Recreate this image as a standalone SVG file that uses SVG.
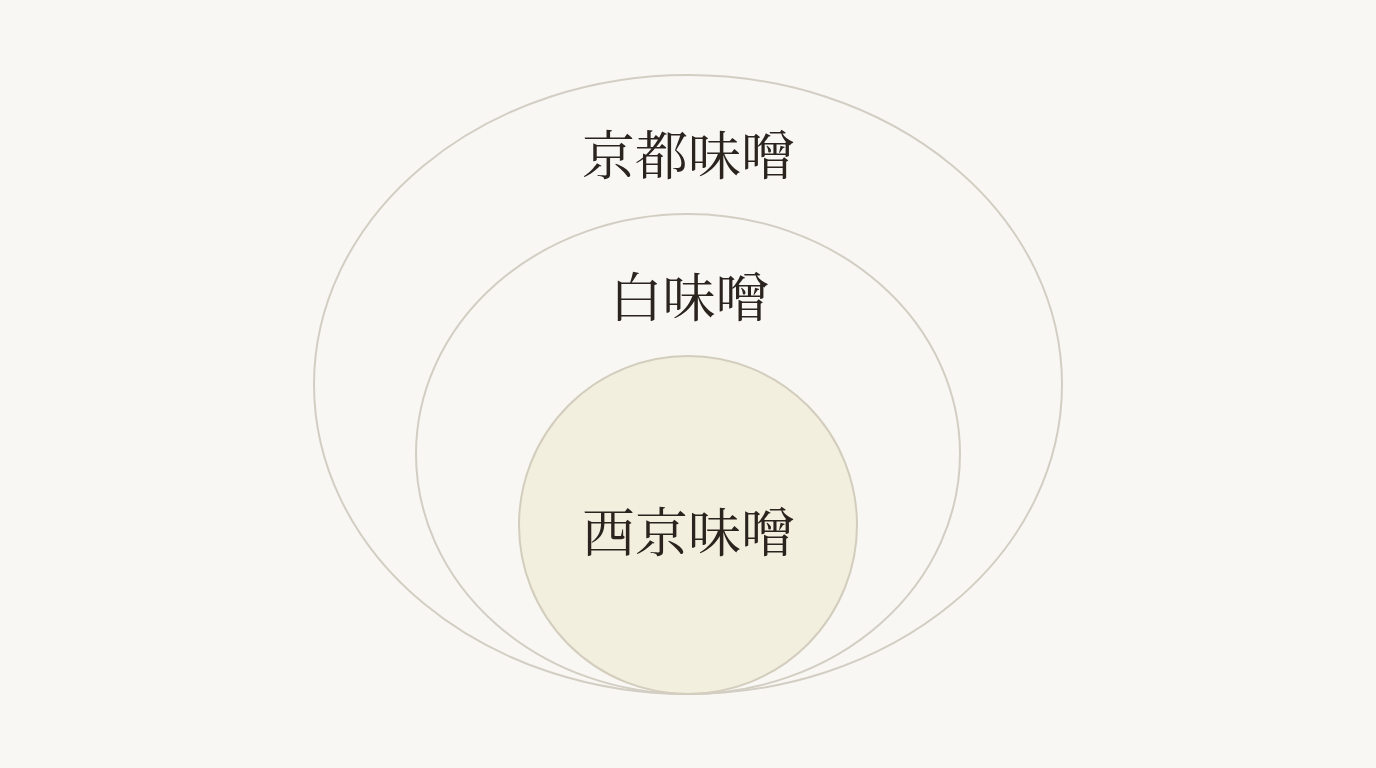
<svg xmlns="http://www.w3.org/2000/svg" width="1376" height="768" viewBox="0 0 1376 768">
<style>
.ring{fill:none;stroke:#d3cec3;stroke-width:2}
.core{fill:#f3efdf;stroke:#d3cdbd;stroke-width:2}
.lbl{font-family:"Noto Serif CJK JP","Noto Sans CJK JP","Liberation Serif",serif;font-size:53px;fill:#2a231e;text-anchor:middle;dominant-baseline:central}
</style>
<rect width="1376" height="768" fill="#f8f7f3"/>
<g id="outer">
<ellipse class="ring" cx="688" cy="384.5" rx="374" ry="309.5"/>
<text class="lbl" x="688" y="152">京都味噌</text>
</g>
<g id="middle">
<ellipse class="ring" cx="688" cy="454" rx="272" ry="240"/>
<text class="lbl" x="689" y="294">白味噌</text>
</g>
<g id="inner">
<circle class="core" cx="688" cy="525" r="169"/>
<text class="lbl" x="688" y="529">西京味噌</text>
</g>
<g id="connectors"></g>
</svg>
